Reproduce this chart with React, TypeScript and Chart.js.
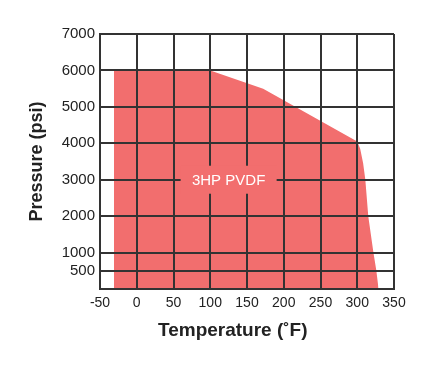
import React, { useEffect, useRef } from "react";
import { Chart, registerables } from "chart.js";

Chart.register(...registerables);

const tempF = [-31, -31, 100, 172, 300, 304, 308, 311, 315, 322, 326, 329];
const pressurePsi = [0, 6000, 6000, 5500, 4050, 3850, 3450, 3000, 2000, 1000, 500, 0];
const yTickValues = [500, 1000, 2000, 3000, 4000, 5000, 6000, 7000];
const xMin = -50;
const xMax = 350;
const xStep = 50;
const regionLabel = "3HP PVDF";
const regionLabelAt = { x: 125, y: 3000 };
const xTitle = "Temperature (˚F)";
const yTitle = "Pressure (psi)";

const FILL = "rgb(242,110,110)";
const GRID = "#333333";
const FONT = "'Liberation Sans', Arial, sans-serif";

const labelPlugin = {
  id: "regionLabel",
  afterDraw(chart: any) {
    const { ctx, scales, chartArea } = chart;
    const px = scales.x.getPixelForValue(regionLabelAt.x);
    const py = scales.y.getPixelForValue(regionLabelAt.y);
    ctx.save();
    ctx.fillStyle = FILL;
    ctx.fillRect(px - 48, py - 14, 96, 28);
    ctx.fillStyle = "#ffffff";
    ctx.font = `15px ${FONT}`;
    ctx.textAlign = "center";
    ctx.textBaseline = "middle";
    ctx.fillText(regionLabel, px, py + 1);
    // x axis title
    ctx.fillStyle = "#222";
    ctx.font = `bold 19px ${FONT}`;
    ctx.textAlign = "left";
    ctx.fillText(xTitle, chartArea.left + 58, chartArea.bottom + 42);
    ctx.restore();
  },
};

export default function App() {
  const ref = useRef<HTMLCanvasElement | null>(null);
  useEffect(() => {
    if (!ref.current) return;
    const chart = new Chart(ref.current, {
      type: "line",
      data: {
        datasets: [
          {
            data: tempF.map((t, i) => ({ x: t, y: pressurePsi[i] })),
            fill: "origin",
            backgroundColor: FILL,
            borderWidth: 0,
            borderColor: FILL,
            pointRadius: 0,
            tension: 0,
          },
        ],
      },
      options: {
        animation: false,
        responsive: true,
        maintainAspectRatio: false,
        layout: { padding: { top: 34, right: 38, bottom: 0, left: 0 } },
        plugins: { legend: { display: false }, tooltip: { enabled: false } },
        scales: {
          x: {
            type: "linear",
            min: xMin,
            max: xMax,
            ticks: {
              stepSize: xStep,
              color: "#222",
              padding: 6,
              maxRotation: 0,
              callback: (v: any) => String(v),
              font: { family: FONT, size: 14 },
            },
            grid: { color: GRID, lineWidth: 2, drawTicks: false, z: 1 },
            border: { color: GRID, width: 2, z: 1 },
            title: { display: false },
            afterFit(scale: any) {
              scale.height = 86;
            },
          },
          y: {
            type: "linear",
            min: 0,
            max: 7000,
            afterBuildTicks(scale: any) {
              scale.ticks = yTickValues.map((v) => ({ value: v }));
            },
            ticks: {
              color: "#222",
              padding: 5,
              callback: (v: any) => String(v),
              font: { family: FONT, size: 15 },
            },
            grid: { color: GRID, lineWidth: 2, drawTicks: false, z: 1 },
            border: { color: GRID, width: 2, z: 1 },
            title: {
              display: true,
              text: yTitle,
              color: "#222",
              font: { family: FONT, size: 18, weight: "bold" },
              padding: { top: 26, bottom: 0 },
            },
            afterFit(scale: any) {
              scale.width = 100;
            },
          },
        },
      },
      plugins: [labelPlugin],
    });
    return () => chart.destroy();
  }, []);
  return (
    <div style={{ position: "fixed", left: 0, top: 0, width: 432, height: 375, background: "#fff" }}>
      <canvas ref={ref} />
    </div>
  );
}
